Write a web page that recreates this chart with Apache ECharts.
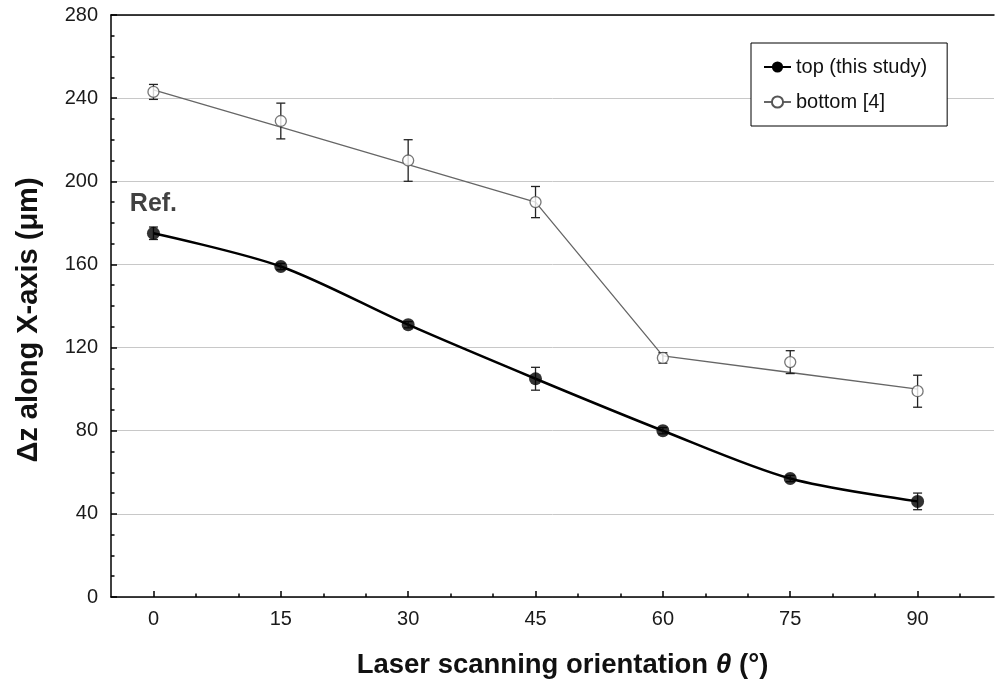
<!DOCTYPE html>
<html>
<head>
<meta charset="utf-8">
<script src="https://cdn.jsdelivr.net/npm/echarts@6/dist/echarts.min.js"></script>
<style>
  html, body { margin: 0; padding: 0; background: #fff; }
  #chart { width: 995px; height: 684px; }
</style>
</head>
<body>
<div id="chart"></div>
<script>
// angles (deg)
const angles = [0, 15, 30, 45, 60, 75, 90]
const majorTicks = [0, 15, 30, 45, 60, 75, 90]
const minorTicks = [5, 10, 20, 25, 35, 40, 50, 55, 65, 70, 80, 85, 95]

// top (this study)
const topValues = [175, 159, 131, 105, 80, 57, 46]
const topErr = [3, 1.5, 1.5, 5.5, 1.5, 1.5, 4]

// bottom [4]
const bottomValues = [243, 229, 210, 190, 115, 113, 99]
const bottomErr = [3.6, 8.6, 10, 7.5, 2.5, 5.5, 7.7]
const bottomLine = [244, 226, 208, 190, 116, 108, 100]

const font = '"Liberation Sans", Arial, sans-serif'

const chart = echarts.init(document.getElementById('chart'))

const pairs = (xs, ys) => xs.map((x, i) => [x, ys[i]])
const errData = (xs, ys, es) => xs.map((x, i) => [x, ys[i] - es[i], ys[i] + es[i]])

const errorBars = (params, api) => {
  const x = api.value(0)
  const lo = api.coord([x, api.value(1)])
  const hi = api.coord([x, api.value(2)])
  const w = 4.5
  const style = { stroke: '#222', lineWidth: 1.3 }
  return {
    type: 'group',
    children: [
      { type: 'line', shape: { x1: lo[0], y1: lo[1], x2: hi[0], y2: hi[1] }, style },
      { type: 'line', shape: { x1: lo[0] - w, y1: lo[1], x2: lo[0] + w, y2: lo[1] }, style },
      { type: 'line', shape: { x1: hi[0] - w, y1: hi[1], x2: hi[0] + w, y2: hi[1] }, style },
    ],
  }
}

chart.setOption({
  animation: false,
  textStyle: { fontFamily: font },
  grid: {
    left: 111,
    right: 1,
    top: 15,
    bottom: 85,
  },
  legend: {
    orient: 'vertical',
    left: 751,
    top: 43,
    data: ['top (this study)', 'bottom [4]'],
    backgroundColor: '#fff',
    borderColor: '#000',
    borderWidth: 1,
    padding: [14, 20, 14, 12],
    itemGap: 15,
    itemWidth: 27,
    itemHeight: 14,
    textStyle: { fontSize: 20, color: '#111', fontFamily: font },
  },
  xAxis: [
    {
      type: 'value',
      min: -5,
      max: 99,
      name: '{a|Laser scanning orientation }{b|θ}{a| (°)}',
      nameLocation: 'middle',
      nameGap: 54,
      nameTextStyle: {
        padding: [0, 0, 0, 20],
        rich: {
          a: { fontSize: 27.5, fontWeight: 'bold', color: '#111', fontFamily: font },
          b: { fontSize: 28, fontWeight: 'bold', fontStyle: 'italic', color: '#111', fontFamily: font },
        },
      },
      axisLine: { onZero: false, lineStyle: { color: '#000', width: 1.5 } },
      axisTick: { inside: true, length: 6, customValues: majorTicks, lineStyle: { color: '#000', width: 1.5 } },
      axisLabel: { customValues: majorTicks, fontSize: 20, color: '#1a1a1a', margin: 12 },
      splitLine: { show: false },
    },
    {
      type: 'value',
      min: -5,
      max: 99,
      position: 'bottom',
      axisLine: { show: false },
      axisTick: { inside: true, length: 3.5, customValues: minorTicks, lineStyle: { color: '#000', width: 1.5 } },
      axisLabel: { show: false },
      splitLine: { show: false },
    },
    {
      type: 'value',
      min: -5,
      max: 99,
      position: 'top',
      axisLine: { onZero: false, lineStyle: { color: '#000', width: 1.5 } },
      axisTick: { show: false },
      axisLabel: { show: false },
      splitLine: { show: false },
    },
  ],
  yAxis: {
    type: 'value',
    min: 0,
    max: 280,
    interval: 40,
    name: 'Δz along X-axis (μm)',
    nameLocation: 'middle',
    nameGap: 68,
    nameTextStyle: { fontSize: 29, fontWeight: 'bold', color: '#111', fontFamily: font, padding: [0, 28, 0, 0] },
    axisLine: { onZero: false, lineStyle: { color: '#000', width: 1.5 } },
    axisTick: { inside: true, length: 6, lineStyle: { color: '#000', width: 1.5 } },
    minorTick: { show: true, splitNumber: 4, length: 3.5, lineStyle: { color: '#000', width: 1.5 } },
    axisLabel: { fontSize: 20, color: '#1a1a1a', margin: 13 },
    splitLine: { lineStyle: { color: '#c8c8c8', width: 1 } },
  },
  series: [
    {
      name: 'bottom [4]',
      type: 'line',
      data: pairs(angles, bottomLine),
      symbol: 'emptyCircle',
      symbolSize: 9,
      showSymbol: false,
      lineStyle: { color: '#666', width: 1.3 },
      itemStyle: { color: '#555', borderWidth: 1.2 },
      z: 2,
    },
    {
      name: 'top (this study)',
      type: 'line',
      data: pairs(angles, topValues),
      smooth: 0.3,
      symbol: 'circle',
      symbolSize: 13,
      showSymbol: false,
      lineStyle: { color: '#000', width: 2.5 },
      itemStyle: { color: '#000' },
      z: 2,
    },
    {
      name: 'bottom [4]',
      type: 'custom',
      renderItem: errorBars,
      data: errData(angles, bottomValues, bottomErr),
      z: 3,
    },
    {
      name: 'top (this study)',
      type: 'custom',
      renderItem: errorBars,
      data: errData(angles, topValues, topErr),
      z: 3,
    },
    {
      name: 'bottom [4]',
      type: 'scatter',
      data: pairs(angles, bottomValues),
      symbol: 'circle',
      symbolSize: 11,
      itemStyle: { color: '#fff', borderColor: '#555', borderWidth: 1.3 },
      z: 4,
    },
    {
      name: 'top (this study)',
      type: 'scatter',
      data: pairs(angles, topValues).map((d, i) => i === 0
        ? { value: d, label: { show: true, formatter: 'Ref.', position: 'top', distance: 10, fontSize: 25, fontWeight: 'bold', color: '#111', fontFamily: font } }
        : d),
      symbol: 'circle',
      symbolSize: 13,
      itemStyle: { color: '#000' },
      z: 4,
    },
  ],
})
</script>
</body>
</html>
